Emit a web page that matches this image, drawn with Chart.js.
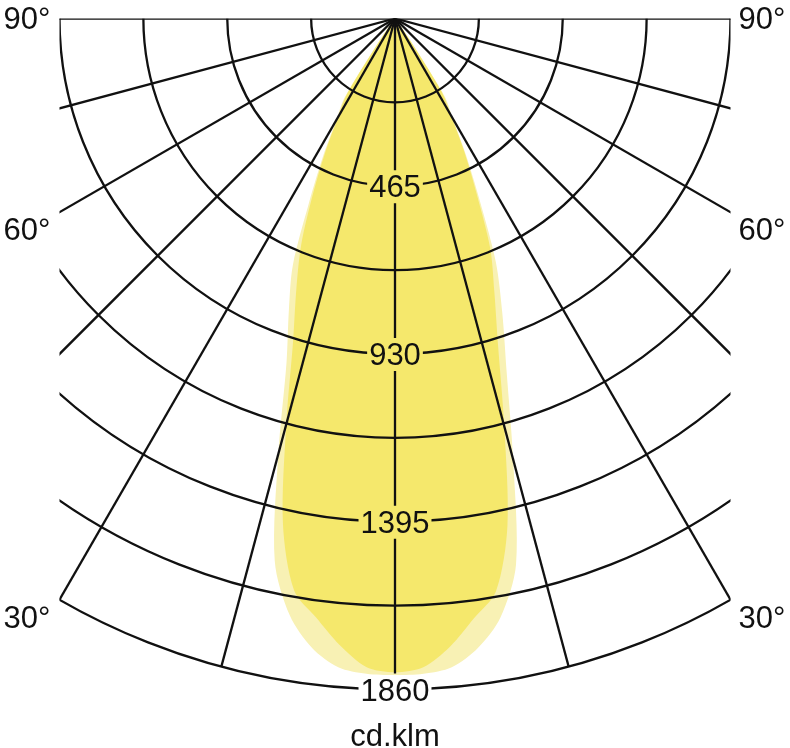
<!DOCTYPE html>
<html lang="en">
<head>
<meta charset="UTF-8">
<title>Light distribution curve</title>
<script src="https://cdn.jsdelivr.net/npm/chart.js"></script>
<style>
  html, body { margin: 0; padding: 0; background: #fff; }
  #wrap { width: 790px; height: 748px; }
</style>
</head>
<body>
<div id="wrap"><canvas id="ldc" width="790" height="748"></canvas></div>
<script>
// angles from nadir in degrees (left half negative)
const gammaDeg = [-37.5, -35, -32.5, -30, -27.5, -25, -22.5, -20, -17.5, -15, -12.5, -10, -7.5, -5, -2.5,
                  0, 2.5, 5, 7.5, 10, 12.5, 15, 17.5, 20, 22.5, 25, 27.5, 30, 32.5, 35, 37.5];
// intensities in cd/klm, wider plane (pale fill)
const planeWide = [0, 75, 260, 325, 435, 565, 740, 860, 1000, 1250, 1540, 1680, 1760, 1805, 1818,
                   1820, 1818, 1805, 1760, 1685, 1550, 1265, 1030, 870, 730, 555, 425, 320, 255, 70, 0];
// narrower plane (strong fill)
const planeNarrow = [0, 60, 245, 315, 420, 540, 680, 800, 940, 1165, 1435, 1610, 1675, 1745, 1800,
                     1812, 1800, 1748, 1677, 1612, 1440, 1170, 950, 805, 690, 535, 415, 310, 240, 55, 0];

const ringValues = [232.5, 465, 697.5, 930, 1162.5, 1395, 1627.5, 1860];
const ringLabelValues = [465, 930, 1395, 1860];
const spokeAngles = [-90, -75, -60, -45, -30, -15, 0, 15, 30, 45, 60, 75, 90];
const angleLabels = [90, 60, 30];
const unitLabel = 'cd.klm';

// layout
const W = 790, H = 748;
const cx = 395, cy = 18.5;        // pixel position of the pole
const pxPerUnit = 671 / 1860;
const clipHalf = 930;             // grid is cut off at +-930 horizontally
const FONT = '31px "Liberation Sans", Arial, sans-serif';
const INK = '#111';
const STRONG = '#f5e86c';
const PALE = '#f8f1b4';

function toXY(g, r) {
    const a = g * Math.PI / 180;
    return { x: r * Math.sin(a), y: -r * Math.cos(a) };
}

const ptsWide = gammaDeg.map((g, i) => toXY(g, planeWide[i]));
const ptsNarrow = gammaDeg.map((g, i) => toXY(g, planeNarrow[i]));

const polarGrid = {
    id: 'polarGrid',
    afterDatasetsDraw(chart) {
        const ctx = chart.ctx;
        const sx = chart.scales.x, sy = chart.scales.y;
        const ox = sx.getPixelForValue(0), oy = sy.getPixelForValue(0);
        const rad = v => sy.getPixelForValue(-v) - oy;
        const left = sx.getPixelForValue(-clipHalf), right = sx.getPixelForValue(clipHalf);
        const rMax = ringValues[ringValues.length - 1];

        ctx.save();
        ctx.font = FONT;

        // gaps in the grid behind the ring values
        const boxes = ringLabelValues.map(v => {
            const w = ctx.measureText(String(v)).width + 4;
            return { x: ox - w / 2, y: oy + rad(v) - 16, w: w, h: 33 };
        });

        ctx.beginPath();
        ctx.rect(left, oy, right - left, chart.height - oy);
        ctx.clip();
        ctx.beginPath();
        ctx.rect(0, 0, chart.width, chart.height);
        boxes.forEach(b => ctx.rect(b.x, b.y, b.w, b.h));
        ctx.clip('evenodd');

        ctx.strokeStyle = INK;
        ctx.lineWidth = 2.3;
        ringValues.forEach(v => {
            ctx.beginPath();
            ctx.arc(ox, oy, rad(v), 0, Math.PI);
            ctx.stroke();
        });
        spokeAngles.forEach(g => {
            const p = toXY(g, rMax);
            ctx.beginPath();
            ctx.moveTo(ox, oy);
            ctx.lineTo(sx.getPixelForValue(p.x), sy.getPixelForValue(p.y));
            ctx.stroke();
        });
        ctx.restore();

        // texts
        ctx.save();
        ctx.font = FONT;
        ctx.fillStyle = INK;
        ctx.textBaseline = 'alphabetic';
        ctx.textAlign = 'center';
        ringLabelValues.forEach(v => {
            ctx.fillText(String(v), ox, oy + rad(v) + 11);
        });

        angleLabels.forEach(a => {
            const s = Math.sin(a * Math.PI / 180), c = Math.cos(a * Math.PI / 180);
            const d = Math.min(clipHalf / s, rMax);
            const yPix = oy + rad(d * c);
            const base = a === 90 ? yPix + 10 : yPix + 28;
            ctx.textAlign = 'right';
            ctx.fillText(a + '°', left - 9, base);
            ctx.textAlign = 'left';
            ctx.fillText(a + '°', right + 8, base);
        });

        ctx.textAlign = 'center';
        ctx.fillText(unitLabel, ox, H - 2);
        ctx.restore();
    }
};

new Chart(document.getElementById('ldc'), {
    type: 'line',
    data: {
        datasets: [
            {
                data: ptsWide,
                fill: 'shape',
                backgroundColor: PALE,
                borderColor: 'rgba(0,0,0,0)',
                borderWidth: 0,
                pointRadius: 0,
                tension: 0.3,
                order: 2
            },
            {
                data: ptsNarrow,
                fill: 'shape',
                backgroundColor: STRONG,
                borderColor: 'rgba(0,0,0,0)',
                borderWidth: 0,
                pointRadius: 0,
                tension: 0.3,
                order: 1
            }
        ]
    },
    options: {
        responsive: false,
        animation: false,
        layout: { padding: 0 },
        plugins: {
            legend: { display: false },
            tooltip: { enabled: false }
        },
        scales: {
            x: { type: 'linear', display: false, min: -cx / pxPerUnit, max: (W - cx) / pxPerUnit },
            y: { type: 'linear', display: false, min: -(H - cy) / pxPerUnit, max: cy / pxPerUnit }
        }
    },
    plugins: [polarGrid]
});
</script>
</body>
</html>
